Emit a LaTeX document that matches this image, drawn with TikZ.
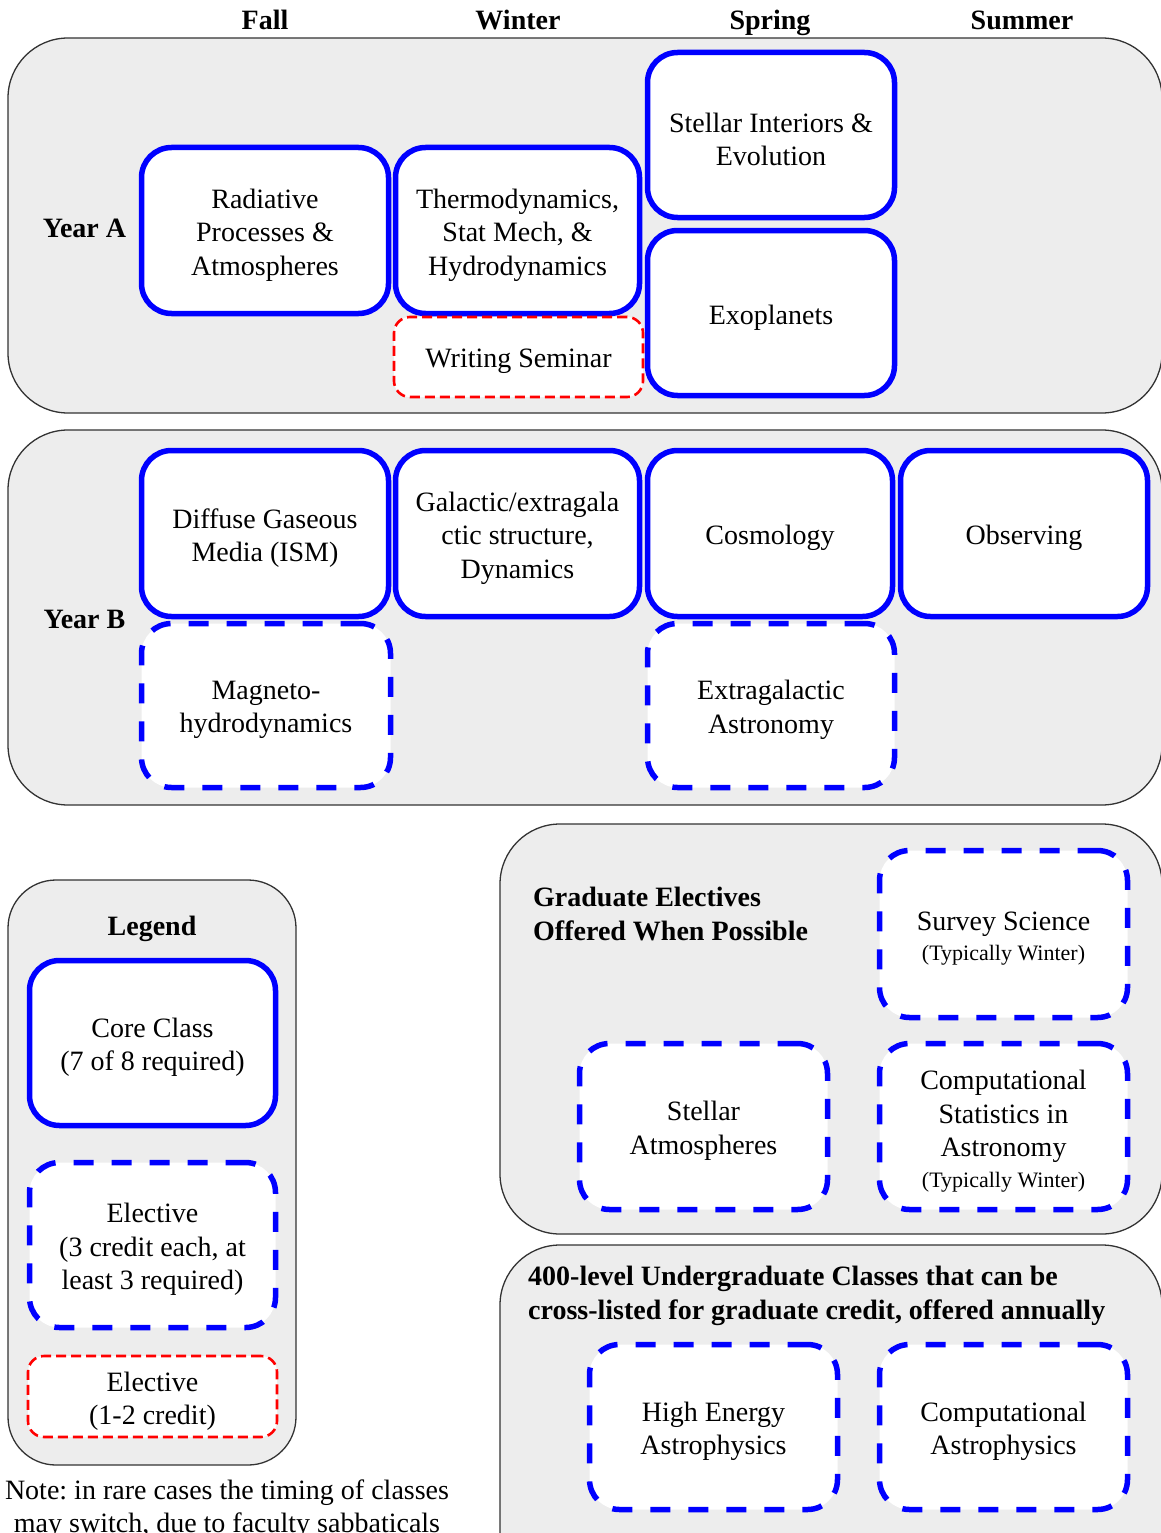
\documentclass[tikz,border=0pt]{standalone}
\usepackage{fontspec}
\setmainfont{Liberation Serif}
\frenchspacing
\begin{document}
\begin{tikzpicture}[x=1pt,y=-1pt,
  every node/.style={font=\fontsize{28}{33.5}\selectfont, align=center, inner sep=0pt},
  hdr/.style={font=\fontsize{28}{33.5}\selectfont\bfseries, anchor=base},
  bg/.style={fill=black!7, draw=black!80, line width=1.3pt, rounded corners=60pt},
  sz/.style 2 args={minimum width=#1pt, minimum height=#2pt},
  t/.style={label={[yshift=-4.5pt]center:{#1}}},
  core/.style={draw=blue, line width=5.5pt, fill=white, rounded corners=30pt},
  elec/.style={draw=blue, line width=5.5pt, fill=white, rounded corners=30pt, dash pattern=on 20pt off 18pt},
  elecred/.style={draw=red, line width=2.6pt, fill=white, rounded corners=16pt, dash pattern=on 10pt off 5pt}
]
\useasboundingbox (0,0) rectangle (1161,1533);
\clip (0,0) rectangle (1161,1533);

% containers
\draw[bg] (8,38) rectangle (1162,413);
\draw[bg] (8,430) rectangle (1162,805);
\draw[bg, rounded corners=48pt] (8,880) rectangle (296,1465);
\draw[bg] (500,824) rectangle (1162,1234);
\draw[bg] (500,1245) rectangle (1162,1620);

% headers
\node[hdr] (fall) at (265,29.5) {Fall};
\node[hdr] (winter) at (518,29.5) {Winter};
\node[hdr] (spring) at (770,29.5) {Spring};
\node[hdr] (summer) at (1022,29.5) {Summer};
\node[hdr] (yA) at (84.5,237) {Year A};
\node[hdr] (yB) at (84.5,628) {Year B};

% Year A
\node[core, sz={247}{166}, t={Radiative\\Processes \&\\Atmospheres}] (rad) at (265,230.5) {};
\node[core, sz={244}{166}, t={Thermodynamics,\\Stat Mech, \&\\Hydrodynamics}] (thermo) at (517.5,230.5) {};
\node[elecred, sz={249}{80}, t={Writing Seminar}] (writ) at (518.5,357) {};
\node[core, sz={247}{165}, t={Stellar Interiors \&\\Evolution}] (stel) at (771,135) {};
\node[core, sz={247}{165}, t={Exoplanets}] (exo) at (771,313) {};

% Year B
\node[core, sz={247}{166}, t={Diffuse Gaseous\\Media (ISM)}] (diff) at (265,533.5) {};
\node[core, sz={244}{166}, t={Galactic/extragala\\ctic structure,\\Dynamics}] (gal) at (517.5,533.5) {};
\node[core, sz={245}{166}, t={Cosmology}] (cosmo) at (770,533.5) {};
\node[core, sz={247}{166}, t={Observing}] (obs) at (1024,533.5) {};
\node[elec, sz={249}{164}, t={Magneto-\\hydrodynamics}] (mhd) at (266,705.5) {};
\node[elec, sz={247}{164}, t={Extragalactic\\Astronomy}] (xgal) at (771,705.5) {};

% Legend
\node[hdr] (leg) at (152,935) {Legend};
\node[core, sz={246}{165}, t={Core Class\\(7 of 8 required)}] (lcore) at (152.5,1043) {};
\node[elec, sz={246}{165}, t={Elective\\(3 credit each, at\\least 3 required)}] (lelec) at (152.5,1245) {};
\node[elecred, sz={249}{81}, t={Elective\\(1-2 credit)}] (lred) at (152.5,1396.5) {};
\node (note) at (227,1509) {Note: in rare cases the timing of classes\\may switch, due to faculty sabbaticals};

% Graduate electives
\node[font=\fontsize{28}{33.5}\selectfont\bfseries, align=left, anchor=west] (gtitle) at (533,914) {Graduate Electives\\Offered When Possible};
\node[elec, sz={248}{167}, t={Survey Science\\[-3pt]{\fontsize{22}{26}\selectfont (Typically Winter)}}] (survey) at (1003.5,934) {};
\node[elec, sz={248}{166}, t={Stellar\\Atmospheres}] (satm) at (703.5,1126.5) {};
\node[elec, sz={248}{166}, t={Computational\\Statistics in\\Astronomy\\[-3pt]{\fontsize{22}{26}\selectfont (Typically Winter)}}] (cstat) at (1003.5,1126.5) {};

% 400-level
\node[font=\fontsize{28}{33.5}\selectfont\bfseries, align=left, anchor=west] (utitle) at (528,1296) {400-level Undergraduate Classes that can be\\cross-listed for graduate credit, offered annually};
\node[elec, sz={248}{165}, t={High Energy\\Astrophysics}] (hea) at (713.5,1427) {};
\node[elec, sz={248}{165}, t={Computational\\Astrophysics}] (cap) at (1003.5,1427) {};
\end{tikzpicture}
\end{document}
